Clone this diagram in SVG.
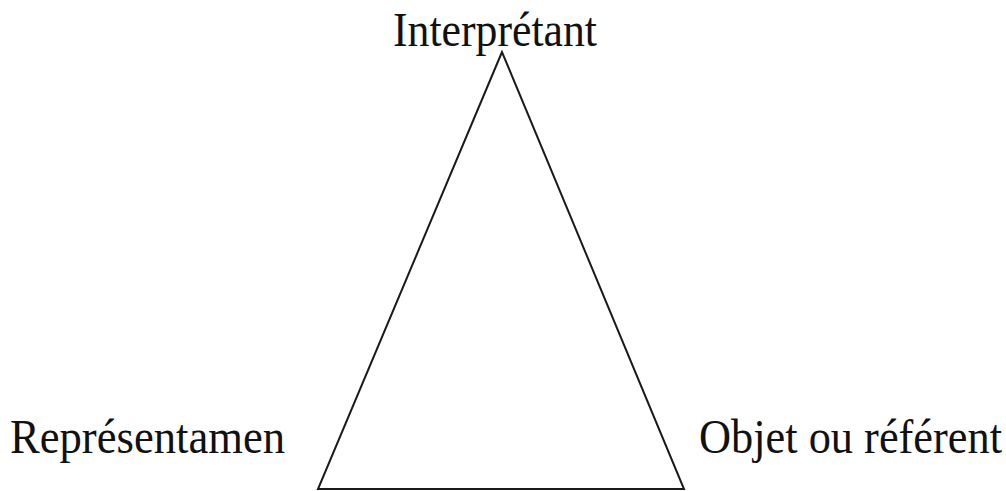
<svg xmlns="http://www.w3.org/2000/svg" width="1006" height="491" viewBox="0 0 1006 491">
<style>
.lbl{font-family:"Liberation Serif","Times New Roman",serif;font-size:44.5px;fill:#111}
.edge{fill:none;stroke:#1a1a1a;stroke-width:2;stroke-linejoin:miter}
</style>
<rect width="1006" height="491" fill="#fff"/>
<g id="connectors">
<polygon class="edge" points="502,52 318,489 684,489"/>
</g>
<g id="interpretant">
<text class="lbl" transform="translate(393,46) scale(1,1.1)" textLength="204" lengthAdjust="spacingAndGlyphs">Interprétant</text>
</g>
<g id="representamen">
<text class="lbl" transform="translate(10,453) scale(1,1.09)" textLength="275" lengthAdjust="spacingAndGlyphs">Représentamen</text>
</g>
<g id="objet">
<text class="lbl" transform="translate(699,453) scale(1,1.09)" textLength="303" lengthAdjust="spacingAndGlyphs">Objet ou référent</text>
</g>
</svg>
